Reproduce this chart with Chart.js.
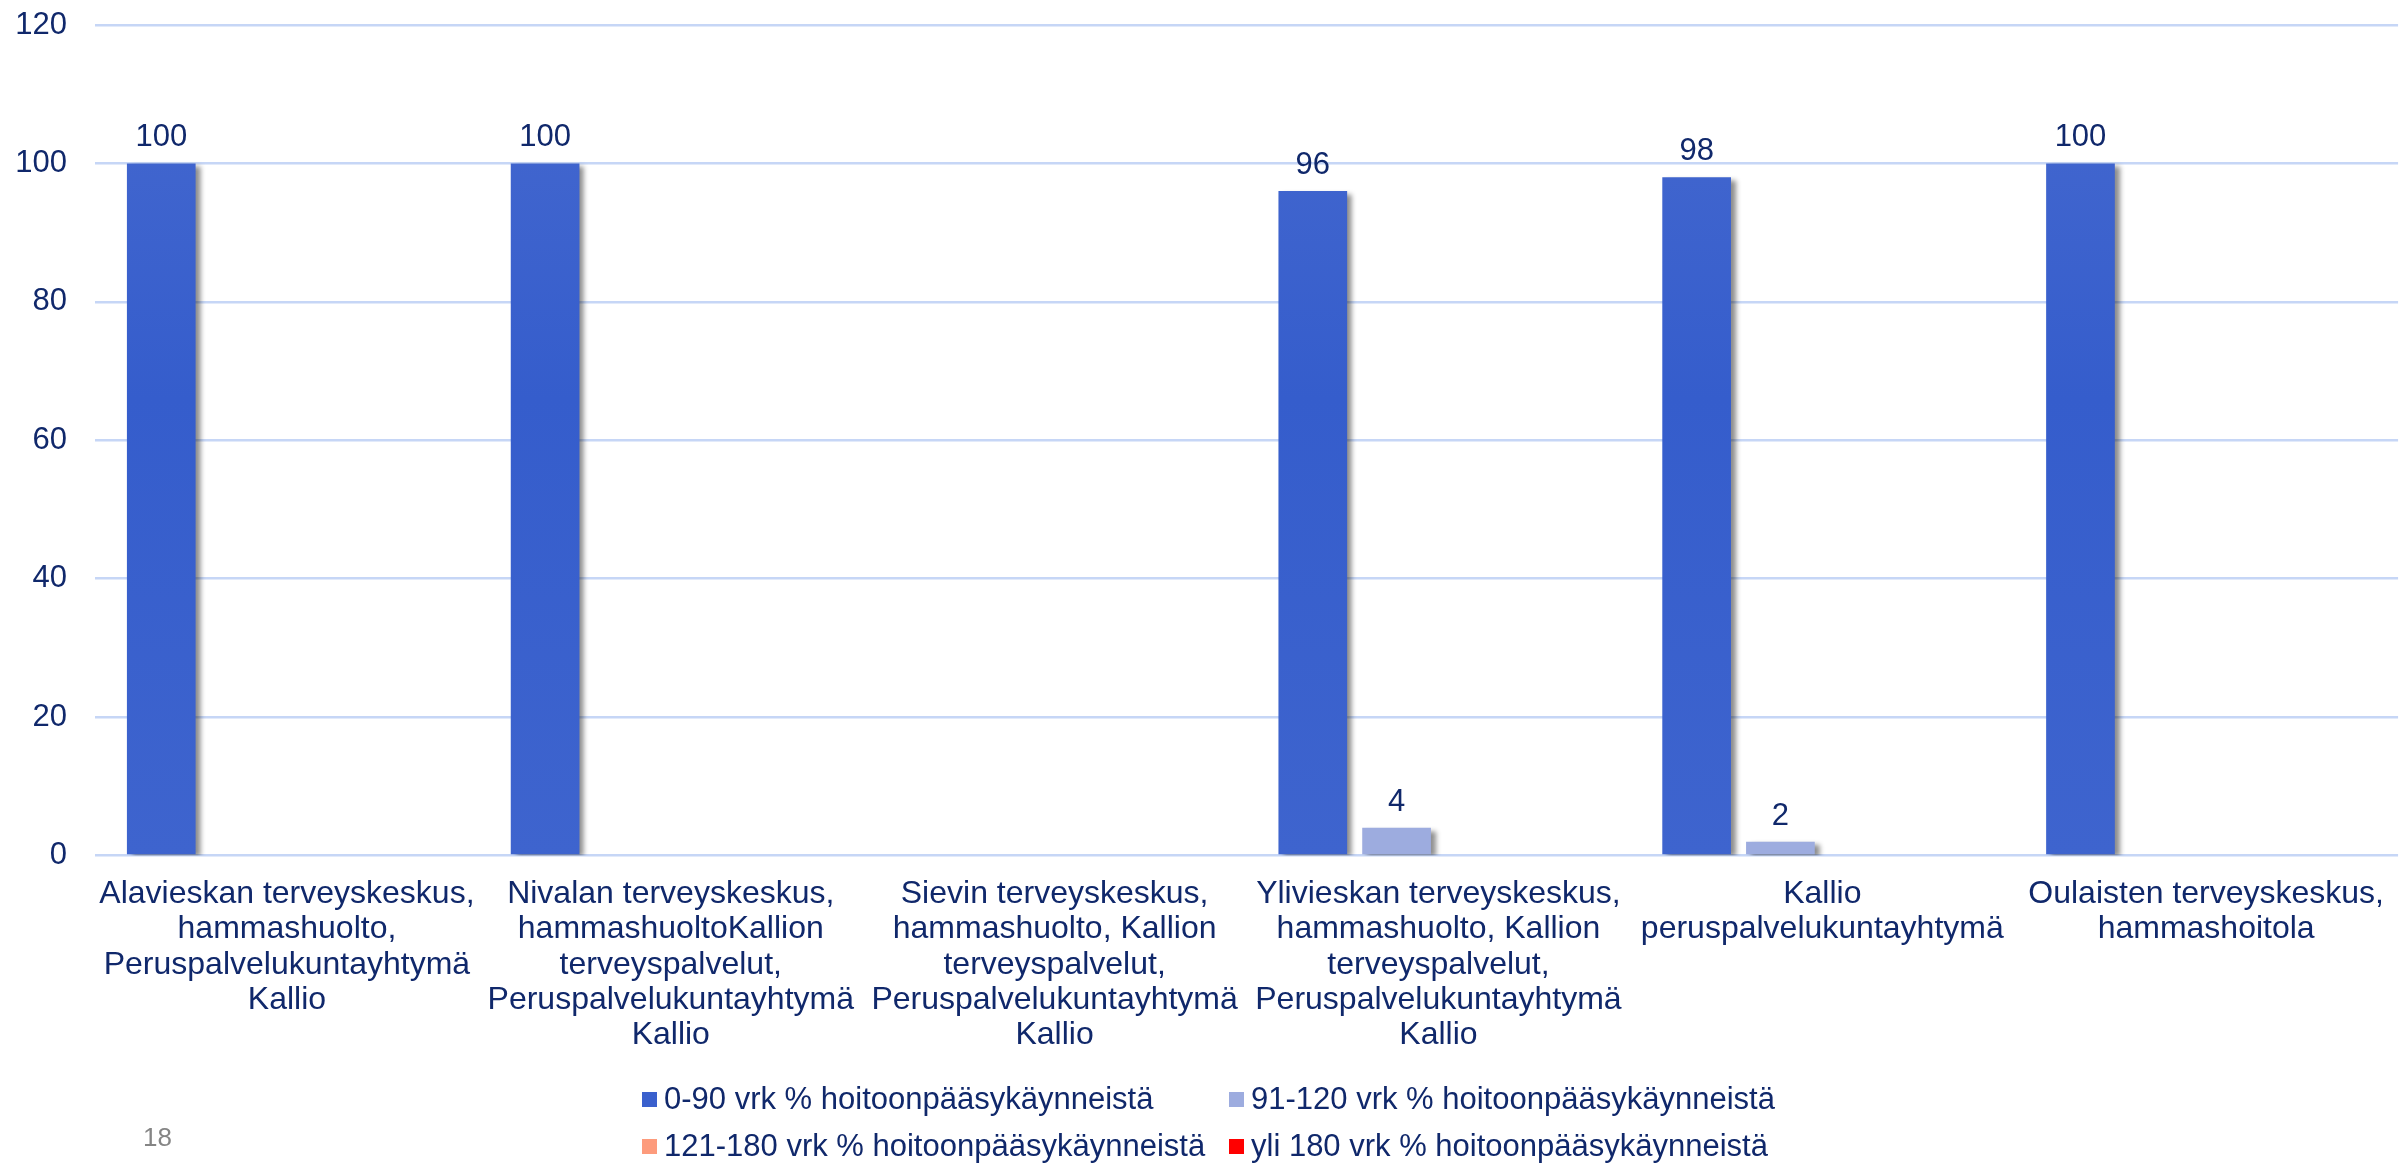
<!DOCTYPE html>
<html>
<head>
<meta charset="utf-8">
<title>Hoitoonpääsy</title>
<script src="https://cdn.jsdelivr.net/npm/chart.js@4.4.0/dist/chart.umd.min.js"></script>
<style>
body{margin:0;background:#ffffff;}
canvas{display:block;}
</style>
</head>
<body>
<canvas id="hoitoChart" width="2405" height="1167"></canvas>
<script>
// data
const categories = [
  ["Alavieskan terveyskeskus,", "hammashuolto,", "Peruspalvelukuntayhtymä", "Kallio"],
  ["Nivalan terveyskeskus,", "hammashuoltoKallion", "terveyspalvelut,", "Peruspalvelukuntayhtymä", "Kallio"],
  ["Sievin terveyskeskus,", "hammashuolto, Kallion", "terveyspalvelut,", "Peruspalvelukuntayhtymä", "Kallio"],
  ["Ylivieskan terveyskeskus,", "hammashuolto, Kallion", "terveyspalvelut,", "Peruspalvelukuntayhtymä", "Kallio"],
  ["Kallio", "peruspalvelukuntayhtymä"],
  ["Oulaisten terveyskeskus,", "hammashoitola"]
];
const seriesNames = [
  "0-90 vrk % hoitoonpääsykäynneistä",
  "91-120 vrk % hoitoonpääsykäynneistä",
  "121-180 vrk % hoitoonpääsykäynneistä",
  "yli 180 vrk % hoitoonpääsykäynneistä"
];
const days0to90 = [100, 100, null, 96, 98, 100];
const days91to120 = [null, null, null, 4, 2, null];
const days121to180 = [null, null, null, null, null, null];
const over180 = [null, null, null, null, null, null];
const yMin = 0;
const yMax = 120;
const yStep = 20;
const pageNumber = "18";

const seriesColors = ["#3a60cd", "#9dacdf", "#fd9b7c", "#ff0000"];
const textColor = "#10286b";
const gridColor = "#c6d6f6";
const fontFamily = "'Liberation Sans', Arial, sans-serif";

// first series has a slight top-to-bottom shading
function firstSeriesFill(context){
  const area = context.chart.chartArea;
  if(!area) return seriesColors[0];
  const g = context.chart.ctx.createLinearGradient(0, area.top, 0, area.bottom);
  g.addColorStop(0, "#4669cf");
  g.addColorStop(0.45, "#355dcc");
  g.addColorStop(1, "#3e64ce");
  return g;
}

// soft grey shadow to the lower right of every bar
const barShadow = {
  id: "barShadow",
  beforeDatasetsDraw(chart){
    const ctx = chart.ctx;
    ctx.save();
    ctx.shadowColor = "rgba(0,0,0,0.45)";
    ctx.shadowOffsetX = 5;
    ctx.shadowOffsetY = 3;
    ctx.shadowBlur = 5;
  },
  afterDatasetsDraw(chart){
    chart.ctx.restore();
    // value labels above the bars
    const ctx = chart.ctx;
    ctx.save();
    ctx.font = "31px " + fontFamily;
    ctx.fillStyle = textColor;
    ctx.textAlign = "center";
    ctx.textBaseline = "alphabetic";
    chart.data.datasets.forEach(function(ds, i){
      const meta = chart.getDatasetMeta(i);
      meta.data.forEach(function(bar, j){
        const v = ds.data[j];
        if(v === null || v === undefined) return;
        ctx.fillText(String(v), bar.x, bar.y - 17);
      });
    });
    ctx.restore();
  }
};

// legend in two rows of two, plus the slide number
const legendRows = {
  id: "legendRows",
  afterDraw(chart){
    const ctx = chart.ctx;
    ctx.save();
    ctx.font = "31px " + fontFamily;
    ctx.textAlign = "left";
    ctx.textBaseline = "middle";
    const cols = [642, 1229];
    const rows = [chart.height - 67, chart.height - 20];
    chart.data.datasets.forEach(function(ds, i){
      const x = cols[i % 2];
      const y = rows[Math.floor(i / 2)];
      ctx.fillStyle = seriesColors[i];
      ctx.fillRect(x, y - 8, 15, 15);
      ctx.fillStyle = textColor;
      ctx.fillText(ds.label, x + 22, y);
    });
    ctx.fillStyle = "#858585";
    ctx.font = "26px " + fontFamily;
    ctx.fillText(pageNumber, 143, chart.height - 28);
    ctx.restore();
  }
};

const seriesData = [days0to90, days91to120, days121to180, over180];

new Chart(
  document.getElementById("hoitoChart"),
  {
    type: "bar",
    data: {
      labels: categories,
      datasets: seriesData.map(function(d, i){
        return {
          label: seriesNames[i],
          data: d,
          backgroundColor: i === 0 ? firstSeriesFill : seriesColors[i],
          barPercentage: 0.82,
          categoryPercentage: 0.873
        };
      })
    },
    options: {
      responsive: false,
      animation: false,
      layout: {
        padding: {top: 25, right: 0, bottom: 93, left: 0}
      },
      plugins: {
        legend: {display: false},
        tooltip: {enabled: false}
      },
      scales: {
        x: {
          grid: {display: false, drawTicks: false},
          border: {display: false},
          ticks: {
            color: textColor,
            padding: 21,
            maxRotation: 0,
            autoSkip: false,
            font: {family: fontFamily, size: 32, lineHeight: 1.103}
          }
        },
        y: {
          min: yMin,
          max: yMax,
          afterFit: function(scale){ scale.width = 95; },
          grid: {color: gridColor, lineWidth: 2.5, drawTicks: true, tickLength: 28, tickColor: "rgba(0,0,0,0)"},
          border: {display: false},
          ticks: {
            stepSize: yStep,
            color: textColor,
            padding: 0,
            font: {family: fontFamily, size: 31}
          }
        }
      }
    },
    plugins: [barShadow, legendRows]
  }
);
</script>
</body>
</html>
